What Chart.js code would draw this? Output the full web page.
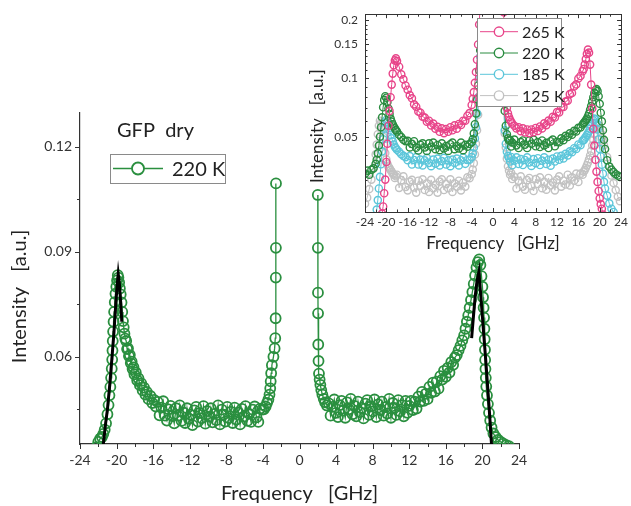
<!DOCTYPE html>
<html>
<head>
<meta charset="utf-8">
<script src="https://cdn.jsdelivr.net/npm/chart.js@4.4.1/dist/chart.umd.min.js"></script>
<style>
    body { margin: 0; background: #fff; }
    #wrap { position: relative; width: 631px; height: 506px; overflow: hidden; }
    #main { position: absolute; left: 0; top: 0; }
    #inset { position: absolute; left: 300px; top: 0; }
</style>
</head>
<body>
<div id="wrap">
    <canvas id="main" width="631" height="506"></canvas>
    <canvas id="inset" width="331" height="260"></canvas>
</div>
<script>
// ---- main panel: GFP dry, 220 K ----
const freq220 = [
    -22.2, -22.0, -21.8, -21.6, -21.45, -21.3, -21.15, -21.0, -20.88, -20.78, -20.68, -20.6, -20.53, -20.48, -20.45, -20.42,
    -20.38, -20.33, -20.27, -20.2, -20.12, -20.03, -19.95, -19.87, -19.8, -19.72, -19.64, -19.55, -19.46, -19.38, -19.3, -19.22,
    -19.14, -19.05, -18.95, -18.85, -18.75, -18.65, -18.55, -18.45, -18.35, -18.25, -18.15, -18.05, -17.9, -17.75, -17.6, -17.45,
    -17.3, -17.15, -17.0, -16.85, -16.7, -16.5, -16.3, -16.1, -15.9, -15.7, -15.5, -15.3, -15.1, -14.9, -14.7, -14.5,
    -14.3, -14.1, -13.9, -13.7, -13.5, -13.3, -13.1, -12.9, -12.7, -12.5, -12.3, -12.1, -11.9, -11.7, -11.5, -11.3,
    -11.1, -10.9, -10.7, -10.5, -10.3, -10.1, -9.9, -9.7, -9.5, -9.3, -9.1, -8.9, -8.7, -8.5, -8.3, -8.1,
    -7.9, -7.7, -7.5, -7.3, -7.1, -6.9, -6.7, -6.5, -6.3, -6.1, -5.9, -5.7, -5.5, -5.3, -5.1, -4.9,
    -4.7, -4.5, -4.3, -4.1, -3.9, -3.7, -3.55, -3.4, -3.28, -3.2, -3.15, -3.1, -3.02, -2.85, -2.72, -2.65,
    -2.61, -2.59, -2.58, -2.57,
    2.0, 2.01, 2.02, 2.03, 2.05, 2.08, 2.13, 2.2, 2.28, 2.38, 2.5, 2.65, 2.8, 3.0, 3.2, 3.4,
    3.6, 3.8, 4.0, 4.2, 4.4, 4.6, 4.8, 5.0, 5.2, 5.4, 5.6, 5.8, 6.0, 6.2, 6.4, 6.6,
    6.8, 7.0, 7.2, 7.4, 7.6, 7.8, 8.0, 8.2, 8.4, 8.6, 8.8, 9.0, 9.2, 9.4, 9.6, 9.8,
    10.0, 10.2, 10.4, 10.6, 10.8, 11.0, 11.2, 11.4, 11.6, 11.8, 12.0, 12.2, 12.4, 12.6, 12.8, 13.0,
    13.2, 13.4, 13.6, 13.8, 14.0, 14.2, 14.4, 14.6, 14.8, 15.0, 15.2, 15.4, 15.6, 15.8, 16.0, 16.2,
    16.4, 16.6, 16.8, 17.0, 17.2, 17.4, 17.6, 17.8, 18.0, 18.15, 18.3, 18.45, 18.6, 18.75, 18.9, 19.05,
    19.2, 19.35, 19.5, 19.65, 19.78, 19.9, 20.0, 20.07, 20.13, 20.18, 20.22, 20.25, 20.28, 20.3, 20.33, 20.37,
    20.42, 20.5, 20.6, 20.72, 20.85, 21.0, 21.2, 21.45, 21.7, 22.0, 22.3, 22.6, 22.9
]
const int220 = [
    0.0342, 0.0357, 0.0366, 0.0371, 0.0380, 0.0392, 0.0410, 0.0436, 0.0462, 0.0490, 0.0514, 0.0540, 0.0566, 0.0592, 0.0618, 0.0645,
    0.0672, 0.0700, 0.0728, 0.0756, 0.0780, 0.0800, 0.0818, 0.0833, 0.0826, 0.0812, 0.0795, 0.0778, 0.0755, 0.0728, 0.0702, 0.0684,
    0.0666, 0.0652, 0.0645, 0.0622, 0.0624, 0.0602, 0.0605, 0.0582, 0.0586, 0.0565, 0.0570, 0.0550, 0.0555, 0.0533, 0.0538, 0.0519,
    0.0524, 0.0504, 0.0512, 0.0492, 0.0500, 0.0479, 0.0488, 0.0468, 0.0477, 0.0458, 0.0471, 0.0433, 0.0455, 0.0473, 0.0432, 0.0418,
    0.0450, 0.0460, 0.0431, 0.0410, 0.0453, 0.0432, 0.0461, 0.0417, 0.0441, 0.0411, 0.0453, 0.0423, 0.0435, 0.0405, 0.0447, 0.0457,
    0.0415, 0.0439, 0.0425, 0.0459, 0.0409, 0.0445, 0.0429, 0.0453, 0.0413, 0.0437, 0.0419, 0.0461, 0.0407, 0.0449, 0.0435, 0.0415,
    0.0457, 0.0425, 0.0443, 0.0411, 0.0455, 0.0421, 0.0441, 0.0407, 0.0451, 0.0429, 0.0459, 0.0417, 0.0437, 0.0414, 0.0449, 0.0458,
    0.0427, 0.0414, 0.0452, 0.0449, 0.0450, 0.0458, 0.0468, 0.0478, 0.0492, 0.0510, 0.0530, 0.0553, 0.0576, 0.0600, 0.0624, 0.0653,
    0.0710, 0.0826, 0.0911, 0.1095,
    0.1062, 0.0911, 0.0783, 0.0724, 0.0635, 0.0588, 0.0552, 0.0535, 0.0520, 0.0505, 0.0492, 0.0480, 0.0470, 0.0461, 0.0467, 0.0432,
    0.0457, 0.0478, 0.0440, 0.0428, 0.0462, 0.0474, 0.0446, 0.0426, 0.0470, 0.0450, 0.0480, 0.0436, 0.0460, 0.0430, 0.0472, 0.0442,
    0.0454, 0.0424, 0.0466, 0.0476, 0.0434, 0.0458, 0.0444, 0.0478, 0.0428, 0.0464, 0.0448, 0.0472, 0.0432, 0.0456, 0.0438, 0.0480,
    0.0426, 0.0468, 0.0454, 0.0434, 0.0476, 0.0444, 0.0462, 0.0430, 0.0474, 0.0440, 0.0460, 0.0474, 0.0448, 0.0472, 0.0452, 0.0486,
    0.0472, 0.0500, 0.0474, 0.0494, 0.0479, 0.0514, 0.0497, 0.0526, 0.0501, 0.0529, 0.0509, 0.0545, 0.0535, 0.0560, 0.0543, 0.0568,
    0.0555, 0.0585, 0.0577, 0.0598, 0.0605, 0.0619, 0.0631, 0.0647, 0.0661, 0.0680, 0.0700, 0.0718, 0.0740, 0.0762, 0.0785, 0.0808,
    0.0832, 0.0855, 0.0870, 0.0878, 0.0862, 0.0830, 0.0800, 0.0770, 0.0740, 0.0712, 0.0680, 0.0650, 0.0620, 0.0591, 0.0565, 0.0540,
    0.0515, 0.0490, 0.0465, 0.0440, 0.0418, 0.0398, 0.0381, 0.0371, 0.0363, 0.0357, 0.0352, 0.0348, 0.0345
]
// fitted peaks (black lines)
const fitLeftFreq = [-21.45, -21.2, -21.0, -20.75, -20.53, -20.3, -20.1, -19.95, -19.82, -19.7, -19.55, -19.43]
const fitLeftInt = [0.0350, 0.0410, 0.0450, 0.0520, 0.0590, 0.0665, 0.0745, 0.0800, 0.0836, 0.0810, 0.0755, 0.0700]
const fitRightFreq = [18.82, 19.0, 19.2, 19.4, 19.62, 19.85, 20.1, 20.35, 20.6, 20.8, 21.0]
const fitRightInt = [0.0653, 0.0710, 0.0770, 0.0815, 0.0843, 0.0765, 0.0680, 0.0595, 0.0505, 0.0430, 0.0348]

const mainXTicks = [-24, -20, -16, -12, -8, -4, 0, 4, 8, 12, 16, 20, 24]
const mainXMinor = [-22, -18, -14, -10, -6, -2, 2, 6, 10, 14, 18, 22]
const mainYTicks = [0.06, 0.09, 0.12]
const mainYMinor = [0.045, 0.075, 0.105]

// ---- inset: four temperatures, log scale ----
const freqInset = [
    -24.0, -23.6, -23.2, -22.8, -22.4, -22.0, -21.8, -21.6, -21.4, -21.2, -21.0, -20.8, -20.6, -20.4, -20.2, -20.0,
    -19.8, -19.6, -19.4, -19.2, -19.0, -18.8, -18.6, -18.4, -18.2, -18.0, -17.6, -17.2, -16.8, -16.4, -16.0, -15.6,
    -15.2, -14.8, -14.4, -14.0, -13.6, -13.2, -12.8, -12.4, -12.0, -11.6, -11.2, -10.8, -10.4, -10.0, -9.6, -9.2,
    -8.8, -8.4, -8.0, -7.6, -7.2, -6.8, -6.4, -6.0, -5.6, -5.2, -4.8, -4.4, -4.0, -3.8, -3.6, -3.4,
    -3.2, -3.0, -2.8, -2.6, -2.4,
    2.0, 2.2, 2.4, 2.6, 2.8, 3.0, 3.2, 3.4, 3.6, 4.0, 4.4, 4.8, 5.2, 5.6, 6.0, 6.4,
    6.8, 7.2, 7.6, 8.0, 8.4, 8.8, 9.2, 9.6, 10.0, 10.4, 10.8, 11.2, 11.6, 12.0, 12.4, 12.8,
    13.2, 13.6, 14.0, 14.4, 14.8, 15.2, 15.6, 16.0, 16.4, 16.8, 17.0, 17.2, 17.4, 17.6, 17.8, 18.0,
    18.2, 18.4, 18.6, 18.8, 19.0, 19.2, 19.4, 19.6, 19.8, 20.0, 20.2, 20.4, 20.6, 20.8, 21.0, 21.4,
    21.8, 22.2, 22.6, 23.0, 23.4, 23.8
]
const int265 = [
    0.012, 0.012, 0.012, 0.012, 0.012, 0.013, 0.014, 0.015, 0.016, 0.017, 0.0185, 0.0200, 0.0218, 0.0255, 0.0300, 0.0370,
    0.0460, 0.0570, 0.0680, 0.0800, 0.0930, 0.1060, 0.1170, 0.1240, 0.1270, 0.1230, 0.1150, 0.1050, 0.0990, 0.0920, 0.0875, 0.0820,
    0.0790, 0.0735, 0.0715, 0.0675, 0.0665, 0.0635, 0.0628, 0.0598, 0.0605, 0.0572, 0.0584, 0.0550, 0.0562, 0.0530, 0.0552, 0.0522,
    0.0548, 0.0530, 0.0560, 0.0540, 0.0572, 0.0550, 0.0582, 0.0575, 0.0605, 0.0605, 0.0642, 0.0662, 0.0730, 0.0785, 0.0850, 0.0950,
    0.1080, 0.1250, 0.1500, 0.1900, 0.2400,
    0.2200, 0.1000, 0.0800, 0.0705, 0.0660, 0.0632, 0.0612, 0.0598, 0.0585, 0.0570, 0.0552, 0.0560, 0.0534, 0.0552, 0.0526, 0.0545,
    0.0522, 0.0545, 0.0528, 0.0555, 0.0535, 0.0565, 0.0552, 0.0586, 0.0574, 0.0606, 0.0598, 0.0633, 0.0628, 0.0670, 0.0668, 0.0710,
    0.0712, 0.0760, 0.0768, 0.0830, 0.0842, 0.0910, 0.0932, 0.1000, 0.1030, 0.1090, 0.1120, 0.1180, 0.1260, 0.1340, 0.1410, 0.1360,
    0.1180, 0.0930, 0.0700, 0.0550, 0.0450, 0.0380, 0.0330, 0.0292, 0.0262, 0.0240, 0.0224, 0.0212, 0.0198, 0.0182, 0.0165, 0.0145,
    0.0130, 0.0120, 0.0115, 0.0110, 0.0110, 0.0110
]
const int220Inset = [
    0.0322, 0.0334, 0.0318, 0.0337, 0.0343, 0.0362, 0.0380, 0.0410, 0.0450, 0.0500, 0.0560, 0.0630, 0.0710, 0.0775, 0.0810, 0.0795,
    0.0755, 0.0700, 0.0655, 0.0620, 0.0598, 0.0580, 0.0565, 0.0552, 0.0541, 0.0532, 0.0512, 0.0498, 0.0482, 0.0474, 0.0476, 0.0440,
    0.0459, 0.0474, 0.0439, 0.0424, 0.0454, 0.0462, 0.0440, 0.0422, 0.0462, 0.0444, 0.0466, 0.0431, 0.0453, 0.0426, 0.0462, 0.0435,
    0.0448, 0.0422, 0.0457, 0.0466, 0.0431, 0.0448, 0.0435, 0.0466, 0.0426, 0.0454, 0.0444, 0.0458, 0.0468, 0.0485, 0.0520, 0.0580,
    0.0660, 0.0780, 0.0920, 0.1100, 0.1400,
    0.0950, 0.0680, 0.0570, 0.0515, 0.0490, 0.0478, 0.0480, 0.0445, 0.0467, 0.0483, 0.0451, 0.0437, 0.0469, 0.0478, 0.0455, 0.0437,
    0.0478, 0.0460, 0.0483, 0.0446, 0.0469, 0.0442, 0.0478, 0.0451, 0.0465, 0.0437, 0.0474, 0.0483, 0.0446, 0.0470, 0.0468, 0.0490,
    0.0480, 0.0505, 0.0498, 0.0520, 0.0512, 0.0536, 0.0532, 0.0556, 0.0558, 0.0578, 0.0588, 0.0598, 0.0608, 0.0620, 0.0638, 0.0658,
    0.0688, 0.0720, 0.0760, 0.0800, 0.0840, 0.0870, 0.0882, 0.0860, 0.0810, 0.0740, 0.0665, 0.0600, 0.0540, 0.0482, 0.0432, 0.0378,
    0.0350, 0.0338, 0.0328, 0.0320, 0.0315, 0.0310
]
const int185 = [
    0.0150, 0.0152, 0.0155, 0.0160, 0.0170, 0.0190, 0.0210, 0.0235, 0.0270, 0.0310, 0.0360, 0.0420, 0.0485, 0.0550, 0.0592, 0.0610,
    0.0598, 0.0570, 0.0540, 0.0512, 0.0490, 0.0472, 0.0456, 0.0444, 0.0436, 0.0428, 0.0418, 0.0406, 0.0398, 0.0392, 0.0378, 0.0397,
    0.0359, 0.0379, 0.0392, 0.0359, 0.0381, 0.0355, 0.0377, 0.0389, 0.0366, 0.0352, 0.0381, 0.0363, 0.0385, 0.0355, 0.0374, 0.0389,
    0.0359, 0.0377, 0.0352, 0.0381, 0.0366, 0.0385, 0.0355, 0.0377, 0.0390, 0.0362, 0.0379, 0.0380, 0.0392, 0.0410, 0.0440, 0.0490,
    0.0560, 0.0660, 0.0800, 0.1000, 0.1300,
    0.0800, 0.0540, 0.0460, 0.0418, 0.0398, 0.0388, 0.0372, 0.0393, 0.0356, 0.0376, 0.0391, 0.0361, 0.0383, 0.0357, 0.0379, 0.0391,
    0.0368, 0.0353, 0.0383, 0.0365, 0.0387, 0.0357, 0.0376, 0.0391, 0.0361, 0.0380, 0.0354, 0.0385, 0.0372, 0.0395, 0.0380, 0.0398,
    0.0386, 0.0408, 0.0400, 0.0420, 0.0416, 0.0436, 0.0432, 0.0456, 0.0452, 0.0478, 0.0480, 0.0490, 0.0500, 0.0510, 0.0521, 0.0534,
    0.0550, 0.0570, 0.0590, 0.0608, 0.0620, 0.0615, 0.0590, 0.0545, 0.0485, 0.0432, 0.0395, 0.0358, 0.0322, 0.0292, 0.0270, 0.0248,
    0.0226, 0.0212, 0.0204, 0.0192, 0.0182, 0.0172
]
const int125 = [
    0.0225, 0.0242, 0.0268, 0.0300, 0.0345, 0.0405, 0.0455, 0.0515, 0.0570, 0.0605, 0.0590, 0.0550, 0.0500, 0.0452, 0.0412, 0.0382,
    0.0362, 0.0350, 0.0344, 0.0336, 0.0330, 0.0322, 0.0318, 0.0306, 0.0312, 0.0318, 0.0272, 0.0298, 0.0312, 0.0275, 0.0264, 0.0293,
    0.0299, 0.0273, 0.0257, 0.0296, 0.0279, 0.0301, 0.0265, 0.0287, 0.0259, 0.0299, 0.0271, 0.0282, 0.0257, 0.0293, 0.0301, 0.0265,
    0.0285, 0.0271, 0.0301, 0.0259, 0.0287, 0.0276, 0.0296, 0.0264, 0.0290, 0.0276, 0.0308, 0.0305, 0.0320, 0.0338, 0.0365, 0.0405,
    0.0460, 0.0540, 0.0650, 0.0800, 0.1000,
    0.0750, 0.0520, 0.0440, 0.0385, 0.0352, 0.0334, 0.0318, 0.0325, 0.0302, 0.0310, 0.0270, 0.0296, 0.0312, 0.0276, 0.0266, 0.0298,
    0.0306, 0.0278, 0.0262, 0.0302, 0.0285, 0.0308, 0.0271, 0.0292, 0.0266, 0.0306, 0.0280, 0.0290, 0.0264, 0.0300, 0.0312, 0.0276,
    0.0296, 0.0283, 0.0318, 0.0280, 0.0308, 0.0296, 0.0322, 0.0292, 0.0322, 0.0318, 0.0330, 0.0336, 0.0345, 0.0356, 0.0368, 0.0382,
    0.0400, 0.0422, 0.0450, 0.0482, 0.0515, 0.0548, 0.0570, 0.0580, 0.0572, 0.0550, 0.0522, 0.0495, 0.0472, 0.0452, 0.0432, 0.0392,
    0.0352, 0.0315, 0.0288, 0.0265, 0.0245, 0.0232
]
const insetLabels = ['265 K', '220 K', '185 K', '125 K']
const insetColors = ['#e8458a', '#2a8c40', '#5cc6da', '#c2c2c2']
const insetYTicks = [0.05, 0.1, 0.15, 0.2]
const insetYMinor = [0.03, 0.04, 0.06, 0.07, 0.08, 0.09, 0.11, 0.12, 0.13, 0.14, 0.16, 0.17, 0.18, 0.19]
const insetXMinor = [-22, -18, -14, -10, -6, -2, 2, 6, 10, 14, 18, 22]

const green = '#2a8f3f'
Chart.defaults.font.family = 'Lato'
Chart.defaults.color = '#333'

function pairs(xs, ys) {
    return xs.map((x, i) => ({ x: x, y: ys[i] }))
}
// no connecting line across the central gap (elastic line is cut out)
const gapSegment = {
    borderColor: c => (c.p0.parsed.x < 0 && c.p1.parsed.x > 0) ? 'rgba(0,0,0,0)' : undefined
}

// tick marks, box and legend drawn on top of the plot
const decor = {
    id: 'decor',
    afterDraw(chart, args, o) {
        const ctx = chart.ctx
        const a = chart.chartArea
        const sx = chart.scales.x, sy = chart.scales.y
        const dir = o.inward ? -1 : 1
        ctx.save()
        ctx.strokeStyle = '#333'
        ctx.lineWidth = 1
        if (o.box) ctx.strokeRect(Math.round(a.left) + 0.5, Math.round(a.top) + 0.5, Math.round(a.right - a.left), Math.round(a.bottom - a.top))
        ctx.beginPath()
        const xt = (list, len) => list.forEach(v => {
            const p = Math.round(sx.getPixelForValue(v)) + 0.5
            ctx.moveTo(p, a.bottom); ctx.lineTo(p, a.bottom + dir * len)
            if (o.box) { ctx.moveTo(p, a.top); ctx.lineTo(p, a.top - dir * len) }
        })
        const yt = (list, len) => list.forEach(v => {
            const p = Math.round(sy.getPixelForValue(v)) + 0.5
            ctx.moveTo(a.left, p); ctx.lineTo(a.left - dir * len, p)
            if (o.box) { ctx.moveTo(a.right, p); ctx.lineTo(a.right + dir * len, p) }
        })
        xt(o.xMajor, o.major); xt(o.xMinor, o.minor)
        yt(o.yMajor, o.major); yt(o.yMinor, o.minor)
        ctx.stroke()

        if (o.caption) {
            ctx.fillStyle = '#222'
            ctx.font = o.caption.font
            ctx.textBaseline = 'middle'
            ctx.fillText(o.caption.text, o.caption.x, o.caption.y)
        }
        const L = o.legend
        if (L) {
            ctx.fillStyle = '#fff'
            ctx.fillRect(L.x, L.y, L.w, L.h)
            ctx.strokeStyle = '#8a8a8a'
            ctx.strokeRect(L.x + 0.5, L.y + 0.5, L.w, L.h)
            L.items.forEach((idx, k) => {
                const ds = chart.data.datasets[idx]
                const cy = L.y + L.first + k * L.row
                const cx = L.x + (L.line0 + L.line1) / 2
                ctx.strokeStyle = ds.borderColor
                ctx.lineWidth = ds.borderWidth
                ctx.beginPath()
                ctx.moveTo(L.x + L.line0, cy); ctx.lineTo(L.x + L.line1, cy)
                ctx.stroke()
                ctx.beginPath()
                ctx.arc(cx, cy, L.r, 0, Math.PI * 2)
                ctx.fillStyle = '#fff'
                ctx.fill()
                ctx.lineWidth = ds.pointBorderWidth
                ctx.stroke()
                ctx.fillStyle = '#222'
                ctx.font = L.font
                ctx.textBaseline = 'middle'
                ctx.fillText(ds.label, L.x + L.text, cy + 1)
            })
        }
        ctx.restore()
    }
}

new Chart(document.getElementById('main'), {
    type: 'scatter',
    data: {
        datasets: [
            { label: 'fit', data: pairs(fitLeftFreq, fitLeftInt), showLine: true, borderColor: '#000', borderWidth: 3, pointRadius: 0 },
            { label: 'fit', data: pairs(fitRightFreq, fitRightInt), showLine: true, borderColor: '#000', borderWidth: 3, pointRadius: 0 },
            {
                label: '220 K',
                data: pairs(freq220, int220),
                showLine: true,
                segment: gapSegment,
                borderColor: green,
                borderWidth: 1.3,
                pointRadius: 5,
                pointBorderWidth: 1.8,
                pointBorderColor: green,
                pointBackgroundColor: 'rgba(255,255,255,0)'
            }
        ]
    },
    options: {
        responsive: false,
        animation: false,
        events: [],
        layout: { padding: { top: 113, right: 112, left: 0, bottom: 0 } },
        plugins: {
            legend: { display: false },
            tooltip: { enabled: false },
            decor: {
                inward: false, box: false, major: 5, minor: 3,
                xMajor: mainXTicks, xMinor: mainXMinor, yMajor: mainYTicks, yMinor: mainYMinor,
                caption: { text: 'GFP  dry', x: 117, y: 131, font: '20px Lato' },
                legend: { x: 110, y: 154, w: 115, h: 29, first: 14.5, row: 0, line0: 3, line1: 53, r: 6, text: 62, font: '20px Lato', items: [2] }
            }
        },
        scales: {
            x: {
                type: 'linear', min: -24, max: 24,
                afterFit: s => { s.height = 62 },
                afterBuildTicks: s => { s.ticks = mainXTicks.map(v => ({ value: v })) },
                ticks: { font: { size: 14 }, padding: 8, maxRotation: 0 },
                grid: { display: true, drawOnChartArea: false, drawTicks: false },
                border: { display: true, color: '#333', width: 1.2 },
                title: { display: true, text: 'Frequency   [GHz]', font: { size: 20 }, color: '#222', padding: { top: 0, bottom: 0 } }
            },
            y: {
                type: 'linear', min: 0.0351, max: 0.1296,
                afterFit: s => { s.width = 80 },
                afterBuildTicks: s => { s.ticks = mainYTicks.map(v => ({ value: v })) },
                ticks: { font: { size: 14 }, padding: 8, callback: v => v.toFixed(2) },
                grid: { display: true, drawOnChartArea: false, drawTicks: false },
                border: { display: true, color: '#333', width: 1.2 },
                title: { display: true, text: 'Intensity   [a.u.]' + '       ', font: { size: 20 }, color: '#222', padding: { top: 8, bottom: 0 } }
            }
        }
    },
    plugins: [decor]
})

new Chart(document.getElementById('inset'), {
    type: 'scatter',
    data: {
        datasets: [int265, int220Inset, int185, int125].map((vals, i) => ({
            label: insetLabels[i],
            data: pairs(freqInset, vals),
            showLine: true,
            segment: gapSegment,
            borderColor: insetColors[i],
            borderWidth: 1,
            pointRadius: 3.6,
            pointBorderWidth: 1.4,
            pointBorderColor: insetColors[i],
            pointBackgroundColor: 'rgba(255,255,255,0)'
        }))
    },
    options: {
        responsive: false,
        animation: false,
        events: [],
        layout: { padding: { top: 13, right: 7, left: 0, bottom: 0 } },
        plugins: {
            legend: { display: false },
            tooltip: { enabled: false },
            decor: {
                inward: true, box: true, major: 4, minor: 2.5,
                xMajor: mainXTicks, xMinor: insetXMinor, yMajor: insetYTicks, yMinor: insetYMinor,
                legend: { x: 177, y: 18, w: 84, h: 88, first: 13.7, row: 21.3, line0: 3, line1: 41, r: 4.7, text: 45, font: '16px Lato', items: [0, 1, 2, 3] }
            }
        },
        scales: {
            x: {
                type: 'linear', min: -24, max: 24,
                afterFit: s => { s.height = 48 },
                afterBuildTicks: s => { s.ticks = mainXTicks.map(v => ({ value: v })) },
                ticks: { font: { size: 12 }, padding: 3, maxRotation: 0, autoSkip: false },
                grid: { display: true, drawOnChartArea: false, drawTicks: false },
                border: { display: true, color: '#333', width: 1 },
                title: { display: true, text: 'Frequency   [GHz]', font: { size: 17 }, color: '#222', padding: { top: 0, bottom: 6 } }
            },
            y: {
                type: 'logarithmic', min: 0.0204, max: 0.215,
                afterFit: s => { s.width = 65 },
                afterBuildTicks: s => { s.ticks = insetYTicks.map(v => ({ value: v })) },
                ticks: { font: { size: 12 }, padding: 7, callback: v => String(v) },
                grid: { display: true, drawOnChartArea: false, drawTicks: false },
                border: { display: true, color: '#333', width: 1 },
                title: { display: true, text: 'Intensity   [a.u.]' + '      ', font: { size: 17 }, color: '#222', padding: { top: 7, bottom: 0 } }
            }
        }
    },
    plugins: [decor]
})
</script>
</body>
</html>
